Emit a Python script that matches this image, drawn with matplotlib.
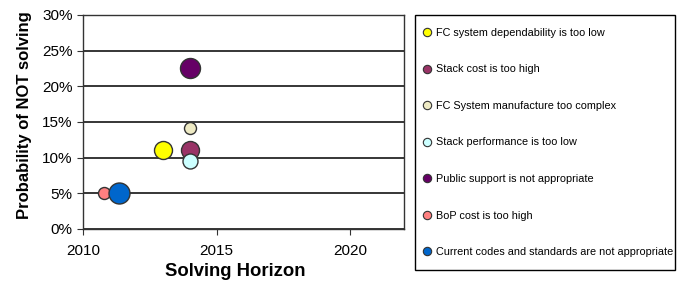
import matplotlib
matplotlib.use("Agg")
import matplotlib.pyplot as plt
from matplotlib.lines import Line2D
from matplotlib.patches import Rectangle
from matplotlib.ticker import PercentFormatter

plt.rcParams["font.family"] = ["Liberation Sans", "DejaVu Sans"]

labels = [
    "FC system dependability is too low",
    "Stack cost is too high",
    "FC System manufacture too complex",
    "Stack performance is too low",
    "Public support is not appropriate",
    "BoP cost is too high",
    "Current codes and standards are not appropriate",
]
years = [2013.0, 2014.0, 2014.0, 2014.0, 2014.0, 2010.8, 2011.35]
prob = [11.1, 11.1, 14.1, 9.5, 22.5, 5.0, 5.0]
bubble = [18, 18, 12, 15, 20, 12, 21]
colors = ["#FFFF00", "#993366", "#EEEAC4", "#CCFFFF", "#660066", "#FF8080", "#0066CC"]

W, H = 683, 288
fig = plt.figure(figsize=(W / 100, H / 100), dpi=100)
ax = fig.add_axes([0.1215, 0.205, 0.47, 0.743])

for x, y, d, c in zip(years, prob, bubble, colors):
    s = (d * 0.72) ** 2
    ax.scatter([x], [y], s=s, color=c, edgecolor="#333333", linewidth=1.0, zorder=3)

ax.set_xlim(2010, 2022)
ax.set_ylim(0, 30)
ax.set_xticks([2010, 2015, 2020])
ax.set_yticks([0, 5, 10, 15, 20, 25, 30])
ax.yaxis.set_major_formatter(PercentFormatter(decimals=0))
ax.grid(axis="y", color="black", linewidth=1.1, zorder=1)
ax.tick_params(axis="both", labelsize=11, length=4, color="#333333")
ax.tick_params(axis="x", pad=7)
for sp in ax.spines.values():
    sp.set_color("#333333")
    sp.set_linewidth(1.0)

ax.set_xlabel("Solving Horizon", fontsize=13.3, fontweight="bold")
ax.set_ylabel("Probability of NOT solving", fontsize=12, fontweight="bold")
ax.xaxis.set_label_coords(0.473, -0.159)
ax.yaxis.set_label_coords(-0.158, 0.533)

# legend box drawn separately so its size matches
fig.add_artist(Rectangle((415 / W, 1 - 270 / H), 260 / W, 255 / H, transform=fig.transFigure,
                         facecolor="white", edgecolor="black", linewidth=1.0))

handles = [Line2D([], [], marker="o", linestyle="none", markersize=6,
                  markerfacecolor=c, markeredgecolor="#333333", markeredgewidth=0.8)
           for c in colors]
leg = fig.legend(handles, labels, loc="upper left",
                 bbox_to_anchor=(422.6 / W, 1 - 27.8 / H),
                 fontsize=7.8, labelspacing=2.45, handlelength=0.8, handletextpad=0.45,
                 borderpad=0, borderaxespad=0, frameon=False)

fig.savefig("out.png", dpi=100)
